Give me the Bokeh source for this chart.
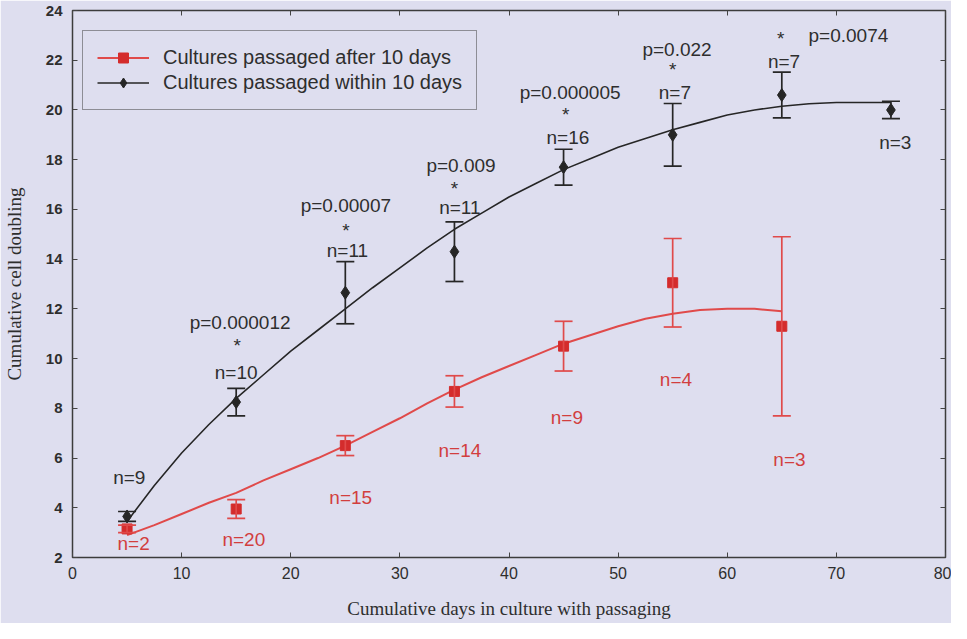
from bokeh.plotting import figure
from bokeh.models import (ColumnDataSource, Whisker, TeeHead, LinearAxis, FixedTicker,
                          Legend, LegendItem)
from bokeh.embed import file_html
from bokeh.resources import INLINE
from bokeh.core.properties import value

# ---------------- data ----------------
within_days = [5, 15, 25, 35, 45, 55, 65, 75]
within_mean = [3.65, 8.25, 12.65, 14.3, 17.7, 19.0, 20.6, 20.0]
within_err = [0.2, 0.55, 1.25, 1.2, 0.72, 1.26, 0.92, 0.35]
within_n = ["n=9", "n=10", "n=11", "n=11", "n=16", "n=7", "n=7", "n=3"]

after_days = [5, 15, 25, 35, 45, 55, 65]
after_mean = [3.15, 3.95, 6.5, 8.68, 10.5, 13.05, 11.3]
after_err = [0.15, 0.38, 0.4, 0.63, 1.0, 1.78, 3.6]
after_n = ["n=2", "n=20", "n=15", "n=14", "n=9", "n=4", "n=3"]

p_labels = ["p=0.000012", "p=0.00007", "p=0.009", "p=0.000005", "p=0.022", "p=0.0074"]

# trend lines
within_fit_x = [5, 7.5, 10, 12.5, 15, 17.5, 20, 22.5, 25, 27.5, 30, 32.5, 35, 37.5, 40,
                42.5, 45, 47.5, 50, 52.5, 55, 57.5, 60, 62.5, 65, 67.5, 70, 72.5, 75]
within_fit_y = [3.45, 4.9, 6.2, 7.35, 8.4, 9.35, 10.3, 11.15, 12.0, 12.85, 13.65, 14.45,
                15.2, 15.85, 16.5, 17.05, 17.6, 18.05, 18.5, 18.85, 19.2, 19.5, 19.8,
                20.0, 20.15, 20.25, 20.3, 20.3, 20.3]
after_fit_x = [5, 7.5, 10, 12.5, 15, 17.5, 20, 22.5, 25, 27.5, 30, 32.5, 35, 37.5, 40,
               42.5, 45, 47.5, 50, 52.5, 55, 57.5, 60, 62.5, 65]
after_fit_y = [2.9, 3.3, 3.75, 4.2, 4.6, 5.1, 5.55, 6.0, 6.5, 7.05, 7.6, 8.2, 8.75, 9.25,
               9.7, 10.15, 10.6, 10.95, 11.3, 11.6, 11.8, 11.95, 12.0, 12.0, 11.9]

# annotation anchor positions (data units)
within_n_x = [5.2, 15.0, 25.2, 35.5, 45.4, 55.2, 65.2, 75.4]
within_n_y = [5.2, 9.44, 14.35, 16.08, 18.9, 20.7, 21.93, 18.69]
after_n_x = [5.6, 15.7, 25.5, 35.5, 45.3, 55.3, 65.7]
after_n_y = [2.58, 2.74, 4.41, 6.29, 7.63, 9.17, 5.95]
p_x = [15.36, 25.05, 35.6, 45.6, 55.4, 71.1]
p_y = [11.45, 16.16, 17.78, 20.7, 22.45, 23.0]
star_x = [15.1, 25.05, 35.0, 45.2, 55.0, 64.9]
star_y = [10.74, 15.35, 17.06, 20.03, 21.84, 23.09]

x_ticks = [0, 10, 20, 30, 40, 50, 60, 70, 80]
y_ticks = [2, 4, 6, 8, 10, 12, 14, 16, 18, 20, 22, 24]

# ---------------- styles ----------------
BG = "#DEDEEF"
BLACK = "#262626"
RED_LINE = "#E04A4A"
RED = "#D42C2C"
RED_TXT = "#D23E3E"
TXT = "#2E2E2E"
SANS = "Liberation Sans"
SERIF = "Liberation Serif"

p = figure(width=951, height=623, x_range=(0, 80), y_range=(2, 24),
           output_backend="svg", toolbar_location=None,
           min_border_left=70, min_border_right=6, min_border_top=10, min_border_bottom=66,
           background_fill_color=BG, border_fill_color=BG)
p.grid.visible = False
p.outline_line_color = "#3C3C3C"
p.outline_line_width = 1.5

for ax in (p.xaxis[0], p.yaxis[0]):
    ax.major_tick_in = 5
    ax.major_tick_out = 0
    ax.minor_tick_line_color = None
    ax.axis_line_color = None
    ax.major_tick_line_color = "#444444"
    ax.major_label_text_color = TXT
    ax.major_label_text_font = SANS
    ax.axis_label_text_font = SERIF
    ax.axis_label_text_font_style = "normal"
    ax.axis_label_text_font_size = "19px"
    ax.axis_label_text_color = TXT

p.xaxis[0].ticker = FixedTicker(ticks=x_ticks)
p.yaxis[0].ticker = FixedTicker(ticks=y_ticks)
p.xaxis[0].major_label_text_font_size = "16px"
p.yaxis[0].major_label_text_font_size = "15px"
p.yaxis[0].major_label_text_font_style = "bold"
p.xaxis[0].major_label_standoff = 9
p.yaxis[0].major_label_standoff = 10
p.xaxis[0].axis_label = "Cumulative days in culture with passaging"
p.yaxis[0].axis_label = "Cumulative cell doubling"
p.xaxis[0].axis_label_standoff = 16
p.yaxis[0].axis_label_standoff = 18

# mirror ticks on right / top (no labels)
for loc, tk in (("right", y_ticks), ("above", x_ticks)):
    ax = LinearAxis(ticker=FixedTicker(ticks=tk), major_tick_in=5, major_tick_out=0,
                    minor_tick_line_color=None, axis_line_color=None,
                    major_tick_line_color="#444444",
                    major_label_overrides={t: "" for t in tk},
                    major_label_standoff=0)
    p.add_layout(ax, loc)

# ---------------- sources ----------------
within_src = ColumnDataSource(dict(
    x=within_days, y=within_mean,
    upper=[m + e for m, e in zip(within_mean, within_err)],
    lower=[m - e for m, e in zip(within_mean, within_err)]))
after_src = ColumnDataSource(dict(
    x=after_days, y=after_mean,
    upper=[m + e for m, e in zip(after_mean, after_err)],
    lower=[m - e for m, e in zip(after_mean, after_err)]))

# trend lines
after_line = p.line(after_fit_x, after_fit_y, line_color=RED_LINE, line_width=2)
within_line = p.line(within_fit_x, within_fit_y, line_color=BLACK, line_width=1.6)

# error bars
for src, col in ((after_src, RED_LINE), (within_src, BLACK)):
    w = Whisker(source=src, base="x", upper="upper", lower="lower",
                line_color=col, line_width=1.7, level="glyph",
                upper_head=TeeHead(size=18, line_color=col, line_width=1.7),
                lower_head=TeeHead(size=18, line_color=col, line_width=1.7))
    p.add_layout(w)

after_pts = p.scatter("x", "y", source=after_src, marker="square", size=10,
                      fill_color=RED, line_color=RED)
within_pts = p.scatter("x", "y", source=within_src, marker="diamond", size=13,
                       fill_color=BLACK, line_color=BLACK)

# annotations
FS = "19px"
p.text(within_n_x, within_n_y, text=within_n, text_align="center", text_baseline="middle",
       text_font=value(SANS), text_font_size=FS, text_color=TXT)
p.text(after_n_x, after_n_y, text=after_n, text_align="center", text_baseline="middle",
       text_font=value(SANS), text_font_size=FS, text_color=RED_TXT)
p.text(p_x, p_y, text=p_labels, text_align="center", text_baseline="middle",
       text_font=value(SANS), text_font_size=FS, text_color=TXT)
p.text(star_x, star_y, text=["*"] * len(star_x), text_align="center", text_baseline="middle",
       y_offset=5, text_font=value(SANS), text_font_size=FS, text_color=TXT)

legend = Legend(items=[
    LegendItem(label="Cultures passaged after 10 days", renderers=[after_line, after_pts]),
    LegendItem(label="Cultures passaged within 10 days", renderers=[within_line, within_pts]),
], location=(10, 447))
legend.background_fill_color = BG
legend.background_fill_alpha = 1.0
legend.border_line_color = "#3C3C3C"
legend.border_line_width = 1.2
legend.label_text_font = SANS
legend.label_text_font_size = "20px"
legend.label_text_color = TXT
legend.glyph_width = 52
legend.glyph_height = 25
legend.label_height = 25
legend.label_standoff = 14
legend.spacing = 0
legend.padding = 14
legend.margin = 0
p.add_layout(legend)

open("out.html", "w").write(file_html(p, INLINE))
